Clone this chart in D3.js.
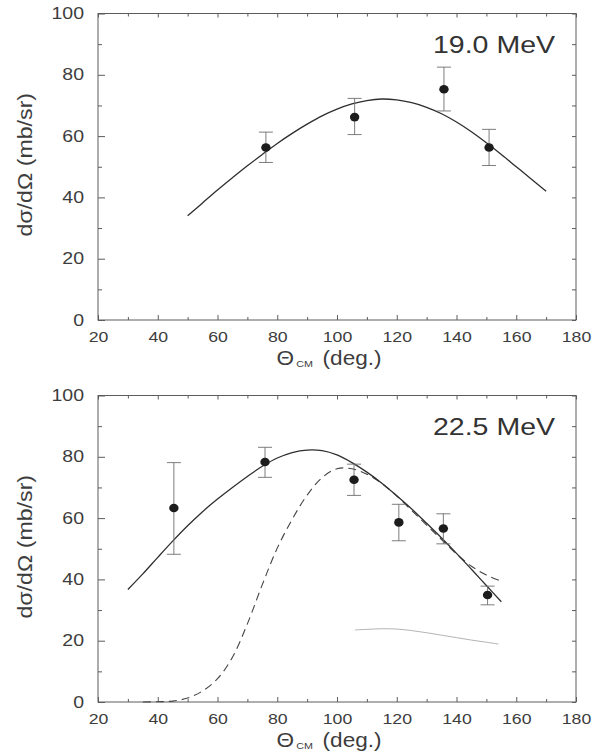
<!DOCTYPE html>
<html>
<head>
<meta charset="utf-8">
<title>Angular distributions 19.0 / 22.5 MeV</title>
<script src="https://cdn.jsdelivr.net/npm/d3@7"></script>
<style>
  body { margin: 0; background: #fff; }
  svg { display: block; font-family: "Liberation Sans", Arial, Helvetica, sans-serif; }
  .axis path { stroke: none; }
  .axis line { stroke: #5c5c5c; }
  .axis text { fill: #3d3d3d; font-size: 15px; }
  .axis.left text { font-size: 16px; }
  .frame { fill: none; stroke: #5c5c5c; stroke-width: 1; }
</style>
</head>
<body>
<svg id="chart" width="606" height="753"></svg>
<script>
// tick values
var xTicks = [20, 40, 60, 80, 100, 120, 140, 160, 180],
    xMinor = [30, 50, 70, 90, 110, 130, 150, 170],
    yTicks = [0, 20, 40, 60, 80, 100],
    yMinor = [10, 30, 50, 70, 90];

// 19.0 MeV measured points
var pts19Theta = [76.2, 105.9, 135.8, 150.9],
    pts19Val   = [56.3, 66.2, 75.3, 56.3],
    pts19Lo    = [51.4, 60.5, 68.2, 50.4],
    pts19Hi    = [61.3, 72.3, 82.5, 62.2];

// 19.0 MeV calculation
var fit19Theta = [50, 55, 60, 65, 70, 75, 80, 85, 90, 95, 100, 105, 110, 115, 120, 125, 130, 135, 140, 145, 150, 155, 160, 165, 170],
    fit19Val   = [34, 38.2, 42.4, 46.4, 50.3, 54, 57.6, 60.9, 63.9, 66.6, 68.8, 70.5, 71.6, 72.1, 71.8, 70.9, 69.4, 67.3, 64.6, 61.4, 57.8, 54, 50, 46, 42];

// 22.5 MeV measured points
var pts22Theta = [45.4, 75.9, 105.7, 120.7, 135.6, 150.4],
    pts22Val   = [63.3, 78.3, 72.5, 58.6, 56.6, 34.9],
    pts22Lo    = [48.2, 73.3, 67.4, 52.6, 51.6, 31.7],
    pts22Hi    = [78.1, 83.1, 77.6, 64.5, 61.4, 37.8];

// 22.5 MeV calculations: total (solid), one component (dashed), other component (faint)
var tot22Theta = [30, 35, 40, 45, 50, 55, 60, 65, 70, 75, 80, 85, 90, 95, 100, 105, 110, 115, 120, 125, 130, 135, 140, 145, 150, 155],
    tot22Val   = [36.7, 41.8, 47.2, 52.5, 57.5, 62.1, 66.2, 70, 73.6, 76.9, 79.6, 81.4, 82.2, 82, 80.6, 78.1, 75, 71.4, 67.3, 63, 58.3, 53.5, 48.5, 43.3, 38, 32.7];
var dash22Theta = [35, 40, 45, 50, 55, 60, 65, 70, 75, 80, 85, 90, 95, 100, 105, 110, 115, 120, 125, 130, 135, 140, 145, 150, 155],
    dash22Val   = [0, 0.1, 0.3, 1.3, 3.6, 7.6, 14.6, 25.5, 38.3, 50.2, 59.6, 67.5, 73.2, 76.1, 76.1, 74.3, 71.3, 67.2, 62.5, 57.7, 53, 48.3, 44.3, 41.4, 39.4];
var faint22Theta = [106, 110, 115, 120, 125, 130, 135, 140, 145, 150, 154],
    faint22Val   = [23.5, 23.7, 23.9, 23.8, 23.3, 22.6, 21.8, 21, 20.2, 19.5, 18.9];

var svg = d3.select("#chart"),
    margin = {left: 98},
    width = 478,
    height = 306.5,
    panelTops = [13.5, 395.5];

var x = d3.scaleLinear().domain([20, 180]).range([0, width]),
    y = d3.scaleLinear().domain([0, 100]).range([height, 0]);

var line = d3.line()
    .x(function(d) { return x(d[0]); })
    .y(function(d) { return y(d[1]); })
    .curve(d3.curveCatmullRom);

function zip(a, b) { return a.map(function(v, i) { return [v, b[i]]; }); }

// stretch a text horizontally (glyphs in the original are wide)
function stretch(sel, k) {
  sel.each(function() {
    var t = d3.select(this), x0 = +t.attr("x") || 0;
    t.attr("x", x0 / k).attr("transform", "scale(" + k + ",1)");
  });
}

function panel(top, label, theta, val, lo, hi, curves) {
  var g = svg.append("g")
      .attr("transform", "translate(" + margin.left + "," + top + ")");

  // ticks pointing inwards on all four sides
  g.append("g").attr("class", "axis")
      .attr("transform", "translate(0," + height + ")")
      .call(d3.axisBottom(x).tickValues(xMinor).tickSize(-3).tickFormat(""));
  var bx = g.append("g").attr("class", "axis")
      .attr("transform", "translate(0," + height + ")")
      .call(d3.axisBottom(x).tickValues(xTicks).tickSize(-5).tickPadding(11));
  stretch(bx.selectAll("text"), 1.18);

  g.append("g").attr("class", "axis")
      .call(d3.axisTop(x).tickValues(xMinor).tickSize(-3).tickFormat(""));
  g.append("g").attr("class", "axis")
      .call(d3.axisTop(x).tickValues(xTicks).tickSize(-4).tickFormat(""));

  g.append("g").attr("class", "axis")
      .call(d3.axisLeft(y).tickValues(yMinor).tickSize(-4).tickFormat(""));
  var ly = g.append("g").attr("class", "axis left")
      .call(d3.axisLeft(y).tickValues(yTicks).tickSize(-7).tickPadding(14));
  stretch(ly.selectAll("text"), 1.22);

  g.append("g").attr("class", "axis")
      .attr("transform", "translate(" + width + ",0)")
      .call(d3.axisRight(y).tickValues(yMinor.concat(yTicks)).tickSize(-4).tickFormat(""));

  g.append("rect").attr("class", "frame")
      .attr("width", width).attr("height", height);

  // curves
  curves.forEach(function(c) {
    g.append("path")
        .datum(zip(c.theta, c.val))
        .attr("fill", "none")
        .attr("stroke", c.color)
        .attr("stroke-width", c.w)
        .attr("stroke-dasharray", c.dash || null)
        .attr("d", line);
  });

  // error bars
  var eb = g.selectAll(".err").data(theta).enter().append("g").attr("class", "err")
      .attr("stroke", "#6e6e6e").attr("stroke-width", 0.9);
  eb.append("line")
      .attr("x1", function(d) { return x(d); }).attr("x2", function(d) { return x(d); })
      .attr("y1", function(d, i) { return y(lo[i]); })
      .attr("y2", function(d, i) { return y(hi[i]); });
  eb.append("line")
      .attr("x1", function(d) { return x(d) - 7; }).attr("x2", function(d) { return x(d) + 7; })
      .attr("y1", function(d, i) { return y(lo[i]); }).attr("y2", function(d, i) { return y(lo[i]); });
  eb.append("line")
      .attr("x1", function(d) { return x(d) - 7; }).attr("x2", function(d) { return x(d) + 7; })
      .attr("y1", function(d, i) { return y(hi[i]); }).attr("y2", function(d, i) { return y(hi[i]); });

  g.selectAll(".pt").data(theta).enter().append("ellipse").attr("class", "pt")
      .attr("cx", function(d) { return x(d); })
      .attr("cy", function(d, i) { return y(val[i]); })
      .attr("rx", 4.7).attr("ry", 4.3)
      .attr("fill", "#1c1c1c");

  // energy label
  g.append("g").attr("transform", "translate(" + (width - 21) + ",39.5) scale(1.24,1)")
    .append("text")
      .attr("text-anchor", "end")
      .attr("fill", "#333")
      .style("font-size", "23px")
      .text(label);

  // axis titles
  var xt = g.append("g").attr("transform", "translate(" + (x(100) - 8) + "," + (height + 44.5) + ") scale(1.13,1)")
    .append("text").attr("text-anchor", "middle").attr("fill", "#3d3d3d").style("font-size", "20px");
  xt.append("tspan").text("\u0398");
  xt.append("tspan").attr("dx", 2).attr("dy", 2).style("font-size", "9.5px").text("CM");
  xt.append("tspan").attr("dx", 3).attr("dy", -2).text(" (deg.)");

  g.append("g").attr("transform", "translate(-66," + (height / 2 - 2) + ") rotate(-90) scale(1.16,1)")
    .append("text")
      .attr("text-anchor", "middle")
      .attr("fill", "#3d3d3d")
      .style("font-size", "20px")
      .text("d\u03C3/d\u03A9 (mb/sr)");
}

panel(panelTops[0], "19.0 MeV", pts19Theta, pts19Val, pts19Lo, pts19Hi, [
  {theta: fit19Theta, val: fit19Val, color: "#2e2e2e", w: 1.3}
]);

panel(panelTops[1], "22.5 MeV", pts22Theta, pts22Val, pts22Lo, pts22Hi, [
  {theta: faint22Theta, val: faint22Val, color: "#b4b4b4", w: 1},
  {theta: dash22Theta, val: dash22Val, color: "#444", w: 1.1, dash: "8,5"},
  {theta: tot22Theta, val: tot22Val, color: "#2e2e2e", w: 1.3}
]);
</script>
</body>
</html>
